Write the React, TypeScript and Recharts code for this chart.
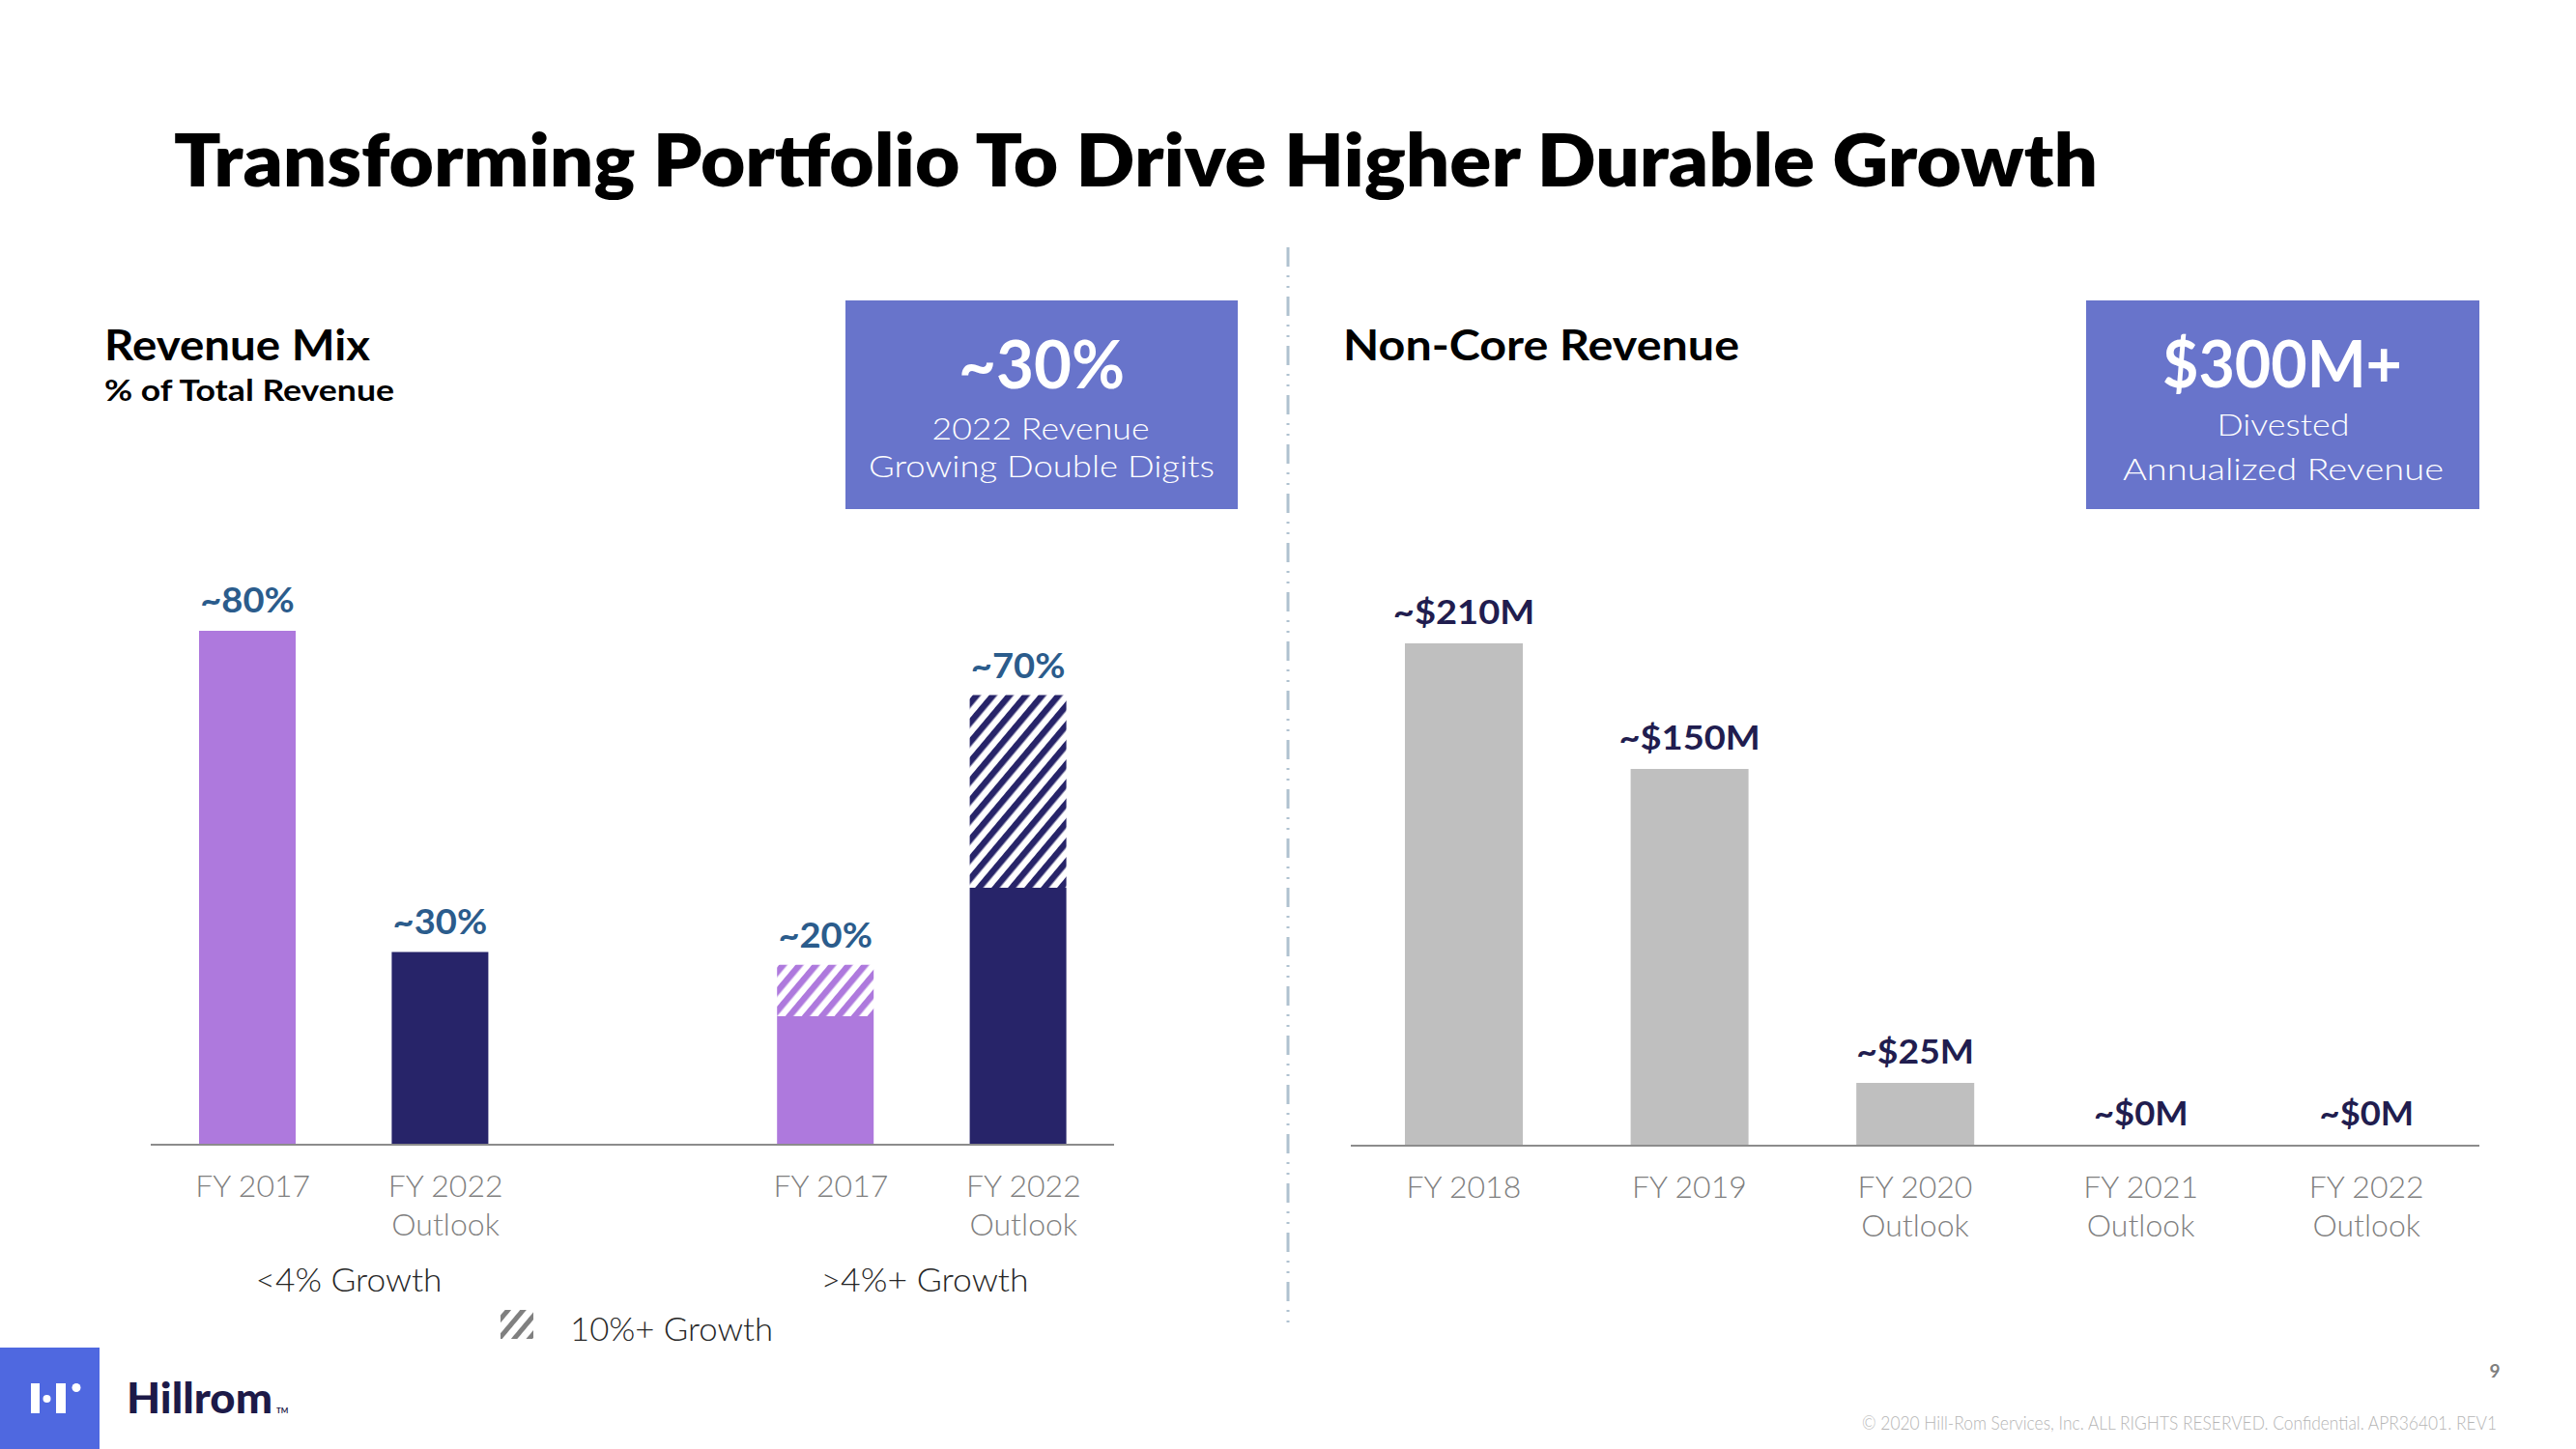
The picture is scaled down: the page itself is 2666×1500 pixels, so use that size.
import React from "react";
import { BarChart, Bar, XAxis, YAxis, Cell, LabelList } from "recharts";

// ---------- data ----------
const leftCategories = ["FY 2017", "FY 2022\nOutlook", "", "FY 2017", "FY 2022\nOutlook"];
const leftBase = [80, 30, 0, 20, 40];
const leftGrowth = [0, 0, 0, 8, 30];
const leftLabels = ["~80%", "~30%", "", "~20%", "~70%"];
const leftGroupLabels = ["<4% Growth", ">4%+ Growth"];

const rightCategories = ["FY 2018", "FY 2019", "FY 2020\nOutlook", "FY 2021\nOutlook", "FY 2022\nOutlook"];
const rightValues = [200, 150, 25, 0, 0];
const rightLabels = ["~$210M", "~$150M", "~$25M", "~$0M", "~$0M"];

// ---------- style ----------
const W = 2666;
const H = 1500;
const FONT = "Lato, 'Open Sans', 'DejaVu Sans', sans-serif";
const LAV = "#AE79DD";
const NAVY = "#272469";
const GRAY_BAR = "#BFBFBF";
const BOX = "#6874CB";
const LEFT_LABEL = "#2B5C8C";
const RIGHT_LABEL = "#211D4F";
const TICK = "#7F7F7F";
const AXIS = "#8C8C8C";

const leftBaseFills = [LAV, NAVY, LAV, LAV, NAVY];
const leftGrowthFills = ["none", "none", "none", "url(#hatchLav)", "url(#hatchNavy)"];

const leftData = leftCategories.map((c, i) => ({
  id: String(i),
  cat: c,
  base: leftBase[i],
  growth: leftGrowth[i],
  label: leftLabels[i],
}));

const rightData = rightCategories.map((c, i) => ({
  id: String(i),
  cat: c,
  value: rightValues[i],
  label: rightLabels[i],
}));

function T(props: any) {
  const { x, y, size, weight = 400, fill = "#000", anchor = "start", len, children, family = FONT } = props;
  return (
    <text
      x={x}
      y={y}
      fontSize={size}
      fontWeight={weight}
      fill={fill}
      textAnchor={anchor}
      fontFamily={family}
      textLength={len}
      lengthAdjust={len ? "spacingAndGlyphs" : undefined}
    >
      {children}
    </text>
  );
}

const makeTick = (cats: string[], dx: number) => (props: any) => {
  const { x, y, payload } = props;
  const idx = Number(payload.value);
  const lines = (cats[idx] || "").split("\n");
  return (
    <g>
      {lines.map((l, k) =>
        l ? (
          <text
            key={k}
            x={Number(x) + dx}
            y={Number(y) + 54 + k * 40}
            textAnchor="middle"
            fontFamily={FONT}
            fontWeight={300}
            fontSize={32}
            fill={TICK}
          >
            {l}
          </text>
        ) : null
      )}
    </g>
  );
};

const makeLabel = (color: string, size: number, off: number) => (props: any) => {
  const { x, y, width, value } = props;
  if (!value) return null;
  const s = String(value);
  return (
    <text
      x={Number(x) + Number(width) / 2}
      y={Number(y) - off}
      textAnchor="middle"
      fontFamily={FONT}
      fontWeight={700}
      fontSize={size}
      fill={color}
      textLength={s.length * 24.4}
      lengthAdjust="spacingAndGlyphs"
    >
      {s}
    </text>
  );
};

function Overlay() {
  return (
    <svg width={W} height={H} style={{ position: "absolute", left: 0, top: 0 }}>
      <defs>
        <pattern id="hatchNavy" patternUnits="userSpaceOnUse" width="13" height="13" patternTransform="rotate(40)">
          <rect width="13" height="13" fill="#fff" />
          <rect width="6.5" height="13" fill={NAVY} />
        </pattern>
        <pattern id="hatchLav" patternUnits="userSpaceOnUse" width="13" height="13" patternTransform="rotate(40)">
          <rect width="13" height="13" fill="#fff" />
          <rect width="6.5" height="13" fill={LAV} />
        </pattern>
        <pattern id="hatchGray" patternUnits="userSpaceOnUse" width="12" height="12" patternTransform="rotate(40)">
          <rect width="12" height="12" fill="#fff" />
          <rect width="5" height="12" fill="#808080" />
        </pattern>
      </defs>
      <rect x={0} y={0} width={W} height={H} fill="#fff" />

      {/* Title */}
      <T x={180} y={193} size={75} weight={800} len={1991}>
        Transforming Portfolio To Drive Higher Durable Growth
      </T>

      {/* Left header */}
      <T x={108} y={373} size={43} weight={700} len={275}>Revenue Mix</T>
      <T x={108} y={415} size={31} weight={700} len={300}>% of Total Revenue</T>

      <rect x={875} y={311} width={406} height={216} fill={BOX} />
      <T x={1078} y={402} size={68} weight={700} fill="#fff" anchor="middle" len={172}>~30%</T>
      <T x={1077} y={455} size={31} weight={300} fill="#fff" anchor="middle" len={225}>2022 Revenue</T>
      <T x={1078} y={494} size={31} weight={300} fill="#fff" anchor="middle" len={358}>Growing Double Digits</T>

      {/* Right header */}
      <T x={1390} y={373} size={43} weight={700} len={410}>Non-Core Revenue</T>
      <rect x={2159} y={311} width={407} height={216} fill={BOX} />
      <T x={2362} y={401} size={66} weight={700} fill="#fff" anchor="middle" len={248}>$300M+</T>
      <T x={2363} y={451} size={31} weight={300} fill="#fff" anchor="middle" len={137}>Divested</T>
      <T x={2363} y={497} size={31} weight={300} fill="#fff" anchor="middle" len={332}>Annualized Revenue</T>

      {/* Divider */}
      <line x1={1333} y1={256} x2={1333} y2={1369} stroke="#AFC1D0" strokeWidth={3} strokeDasharray="20 9 2 9 2 9" />

      {/* Group labels */}
      <T x={361} y={1337} size={33} weight={300} fill="#262626" anchor="middle" len={193}>{leftGroupLabels[0]}</T>
      <T x={957} y={1337} size={33} weight={300} fill="#262626" anchor="middle" len={215}>{leftGroupLabels[1]}</T>

      {/* Legend */}
      <rect x={518} y={1356} width={34} height={30} fill="url(#hatchGray)" />
      <T x={590} y={1388} size={33} weight={300} fill="#262626" len={210}>10%+ Growth</T>

      {/* Logo */}
      <rect x={0} y={1395} width={103} height={105} fill="#4F68E0" />
      <rect x={32} y={1432} width={9} height={31} fill="#fff" />
      <circle cx={48.5} cy={1448} r={4} fill="#fff" />
      <rect x={58} y={1432} width={10} height={31} fill="#fff" />
      <circle cx={79} cy={1436.5} r={4.5} fill="#fff" />
      <T x={131} y={1463} size={43} weight={900} fill="#1D1A48" len={151}>Hillrom</T>
      <T x={286} y={1463} size={8} weight={700} fill="#1D1A48">TM</T>

      {/* Footer */}
      <T x={2582} y={1426} size={19} weight={700} fill="#7F7F7F" anchor="middle">9</T>
      <T x={1927} y={1480} size={19} weight={300} fill="#B5B5B5" len={657}>
        © 2020  Hill-Rom Services, Inc. ALL RIGHTS RESERVED. Confidential. APR36401. REV1
      </T>
    </svg>
  );
}

export default function App() {
  return (
    <div style={{ position: "absolute", left: 0, top: 0, width: W, height: H, background: "#fff", overflow: "hidden" }}>
      <Overlay />

      <div style={{ position: "absolute", left: 156, top: 520 }}>
        <BarChart width={997} height={815} data={leftData} margin={{ top: 0, right: 0, bottom: 0, left: 0 }}>
          <YAxis hide width={0} domain={[0, 100]} type="number" />
          <XAxis
            dataKey="id"
            type="category"
            interval={0}
            height={150}
            tickLine={false}
            tickSize={0}
            tickMargin={0}
            axisLine={{ stroke: AXIS, strokeWidth: 2 }}
            tick={makeTick(leftCategories, 6)}
          />
          <Bar dataKey="base" stackId="s" barSize={100} isAnimationActive={false}>
            {leftData.map((d, i) => (
              <Cell key={i} fill={leftBaseFills[i]} />
            ))}
          </Bar>
          <Bar dataKey="growth" stackId="s" barSize={100} minPointSize={1} isAnimationActive={false}>
            {leftData.map((d, i) => (
              <Cell key={i} fill={leftGrowthFills[i]} />
            ))}
            <LabelList dataKey="label" content={makeLabel(LEFT_LABEL, 37, 18)} />
          </Bar>
        </BarChart>
      </div>

      <div style={{ position: "absolute", left: 1398, top: 536 }}>
        <BarChart width={1168} height={800} data={rightData} margin={{ top: 0, right: 0, bottom: 0, left: 0 }}>
          <YAxis hide width={0} domain={[0, 250]} type="number" />
          <XAxis
            dataKey="id"
            type="category"
            interval={0}
            height={150}
            tickLine={false}
            tickSize={0}
            tickMargin={0}
            axisLine={{ stroke: AXIS, strokeWidth: 2 }}
            tick={makeTick(rightCategories, 0)}
          />
          <Bar dataKey="value" barSize={122} minPointSize={1} isAnimationActive={false}>
            {rightData.map((d, i) => (
              <Cell key={i} fill={d.value > 0 ? GRAY_BAR : "none"} />
            ))}
            <LabelList dataKey="label" content={makeLabel(RIGHT_LABEL, 34, 20)} />
          </Bar>
        </BarChart>
      </div>
    </div>
  );
}
